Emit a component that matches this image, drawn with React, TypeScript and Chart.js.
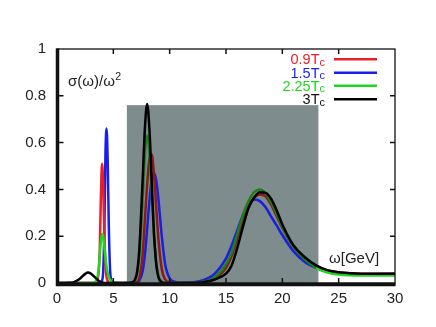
import React, { useEffect, useRef } from "react";
import { Chart, registerables } from "chart.js";

Chart.register(...registerables);

// ---- data ----
const omega = [
  0, 1, 1.5, 2, 2.5, 2.75, 3, 3.5, 3.7, 3.8,
  3.9, 4.0, 4.1, 4.2, 4.3, 4.4, 4.5, 4.6, 4.7, 4.8,
  5, 5.5, 6, 6.5, 7, 7.3, 7.6, 7.8, 8.0, 8.2,
  8.4, 8.6, 8.8, 9.0, 9.3, 9.6, 10, 10.5, 11, 12,
  13, 14, 15, 15.5, 16, 16.5, 17, 17.5, 18, 18.5,
  19, 19.5, 20, 21, 22, 23, 24, 25, 27, 30,
];

const rho09 = [
  0, 0, 0, 0, 0, 0, 0, 0.003, 0.05, 0.15,
  0.38, 0.51, 0.42, 0.22, 0.08, 0.025, 0.008, 0.002, 0, 0,
  0, 0, 0, 0, 0.003, 0.02, 0.12, 0.27, 0.42, 0.53,
  0.55, 0.47, 0.33, 0.19, 0.06, 0.015, 0.003, 0, 0, 0,
  0.005, 0.02, 0.065, 0.115, 0.19, 0.27, 0.33, 0.365, 0.378, 0.37,
  0.335, 0.285, 0.235, 0.155, 0.105, 0.07, 0.052, 0.045, 0.04, 0.04,
];

const rho15 = [
  0, 0, 0, 0, 0, 0, 0, 0, 0, 0,
  0.002, 0.01, 0.05, 0.22, 0.55, 0.66, 0.52, 0.24, 0.07, 0.015,
  0.002, 0, 0, 0, 0, 0.01, 0.05, 0.12, 0.23, 0.35,
  0.44, 0.47, 0.44, 0.36, 0.2, 0.08, 0.02, 0.005, 0.001, 0.003,
  0.012, 0.04, 0.105, 0.16, 0.225, 0.29, 0.335, 0.357, 0.35, 0.325,
  0.285, 0.245, 0.205, 0.135, 0.09, 0.065, 0.05, 0.042, 0.037, 0.04,
];

const rho225 = [
  0, 0, 0, 0, 0, 0, 0, 0.01, 0.06, 0.12,
  0.18, 0.21, 0.2, 0.16, 0.11, 0.07, 0.045, 0.025, 0.015, 0.008,
  0.002, 0, 0, 0, 0.02, 0.11, 0.36, 0.55, 0.63, 0.56,
  0.39, 0.21, 0.09, 0.03, 0.005, 0, 0, 0, 0, 0,
  0.005, 0.025, 0.08, 0.13, 0.21, 0.29, 0.35, 0.388, 0.4, 0.385,
  0.345, 0.295, 0.24, 0.155, 0.1, 0.065, 0.045, 0.036, 0.032, 0.032,
];

const rho3 = [
  0, 0.001, 0.004, 0.017, 0.039, 0.045, 0.04, 0.018, 0.01, 0.007,
  0.004, 0.002, 0.001, 0, 0, 0, 0, 0, 0, 0,
  0, 0, 0, 0.001, 0.024, 0.14, 0.44, 0.66, 0.765, 0.66,
  0.44, 0.22, 0.085, 0.025, 0.003, 0, 0, 0, 0, 0,
  0.003, 0.015, 0.04, 0.075, 0.15, 0.24, 0.32, 0.365, 0.388, 0.385,
  0.36, 0.31, 0.25, 0.16, 0.11, 0.075, 0.055, 0.046, 0.04, 0.04,
];

const seriesNames = ["0.9", "1.5", "2.25", "3"];
const xTicks = [0, 5, 10, 15, 20, 25, 30];
const yTicks = [0, 0.2, 0.4, 0.6, 0.8, 1];
const shadeRangeX = [6.2, 23.2];
const shadeRangeY = [0, 0.76];

// ---- styles ----
const colors = ["rgb(235,30,40)", "rgb(25,30,235)", "rgb(30,215,30)", "#000000"];
const darkColors = ["rgb(140,25,25)", "rgb(25,30,225)", "rgb(25,130,25)", "#000000"];
const FONT = "'Liberation Sans', Arial, Helvetica, sans-serif";

const framePlugin = {
  id: "framePlugin",
  beforeDatasetsDraw(chart: any) {
    const { ctx, scales } = chart;
    const x = scales.x, y = scales.y;
    const x0 = x.getPixelForValue(shadeRangeX[0]);
    const x1 = x.getPixelForValue(shadeRangeX[1]);
    const y0 = y.getPixelForValue(shadeRangeY[0]);
    const y1 = y.getPixelForValue(shadeRangeY[1]);
    ctx.save();
    ctx.fillStyle = "rgb(127,140,141)";
    ctx.fillRect(x0, y1, x1 - x0, y0 - y1);
    ctx.restore();
  },
  afterDraw(chart: any) {
    const { ctx, chartArea, scales } = chart;
    const { left, right, top, bottom } = chartArea;
    ctx.save();
    // thin frame
    ctx.strokeStyle = "#111";
    ctx.lineWidth = 1.3;
    ctx.strokeRect(left, top, right - left, bottom - top);
    // thick left & bottom axes
    ctx.lineWidth = 3.5;
    ctx.beginPath();
    ctx.moveTo(left + 0.5, top - 0.6);
    ctx.lineTo(left + 0.5, bottom + 1.5);
    ctx.lineTo(right + 0.6, bottom + 1.5);
    ctx.stroke();
    // inward ticks
    ctx.lineWidth = 1.5;
    const tl = 5;
    ctx.beginPath();
    xTicks.forEach((v, i) => {
      if (i === 0 || i === xTicks.length - 1) return;
      const px = scales.x.getPixelForValue(v);
      ctx.moveTo(px, bottom);
      ctx.lineTo(px, bottom - tl);
      ctx.moveTo(px, top);
      ctx.lineTo(px, top + tl);
    });
    yTicks.forEach((v, i) => {
      if (i === 0 || i === yTicks.length - 1) return;
      const py = scales.y.getPixelForValue(v);
      ctx.moveTo(left, py);
      ctx.lineTo(left + tl + 1.5, py);
      ctx.moveTo(right, py);
      ctx.lineTo(right - tl, py);
    });
    ctx.stroke();

    // axis titles
    ctx.fillStyle = "#222";
    ctx.textBaseline = "alphabetic";
    ctx.textAlign = "left";
    ctx.font = `15px ${FONT}`;
    const ylab = "σ(ω)/ω";
    ctx.fillText(ylab, 68, 86);
    const w = ctx.measureText(ylab).width;
    ctx.font = `10.5px ${FONT}`;
    ctx.fillText("2", 68 + w + 0.5, 80);
    ctx.font = `15px ${FONT}`;
    ctx.fillText("ω[GeV]", 329, 263);

    // legend
    const legendY = [59.3, 72.7, 85.8, 99.2];
    const textRight = 325;
    seriesNames.forEach((name, i) => {
      const ly = legendY[i];
      ctx.font = `11px ${FONT}`;
      const cw = ctx.measureText("c").width;
      ctx.fillStyle = colors[i] === "#000000" ? "#111" : colors[i];
      ctx.textAlign = "left";
      ctx.fillText("c", textRight - cw, ly + 6.5);
      ctx.font = `14.5px ${FONT}`;
      ctx.textAlign = "right";
      ctx.fillText(name + "T", textRight - cw, ly + 5);
      ctx.strokeStyle = colors[i];
      ctx.lineWidth = 2.5;
      ctx.beginPath();
      ctx.moveTo(334, ly);
      ctx.lineTo(377, ly);
      ctx.stroke();
    });
    ctx.restore();
  },
};

export default function App() {
  const ref = useRef<HTMLCanvasElement | null>(null);

  useEffect(() => {
    document.body.style.margin = "0";
    const canvas = ref.current;
    if (!canvas) return;
    const series = [rho09, rho15, rho225, rho3];
    const order = [3, 2, 0, 1]; // black on top, then green, red, blue
    const datasets = order.map((si) => ({
      label: seriesNames[si] + "Tc",
      data: omega.map((x, k) => ({ x, y: series[si][k] })),
      borderColor: colors[si],
      borderWidth: 2.5,
      pointRadius: 0,
      fill: false,
      cubicInterpolationMode: "monotone" as const,
      segment: {
        borderColor: (c: any) => {
          const xm = (c.p0.parsed.x + c.p1.parsed.x) / 2;
          const ym = Math.max(c.p0.parsed.y, c.p1.parsed.y);
          return xm > shadeRangeX[0] && xm < shadeRangeX[1] && ym < shadeRangeY[1]
            ? darkColors[si]
            : colors[si];
        },
      },
    }));

    const chart = new Chart(canvas, {
      type: "line",
      data: { datasets },
      options: {
        animation: false,
        responsive: false,
        maintainAspectRatio: false,
        layout: { padding: { top: 49, right: 41, left: 0, bottom: 0 } },
        plugins: { legend: { display: false }, tooltip: { enabled: false } },
        scales: {
          x: {
            type: "linear",
            min: 0,
            max: 30,
            afterFit: (s: any) => { s.height = 44; },
            afterBuildTicks: (s: any) => { s.ticks = xTicks.map((v) => ({ value: v })); },
            ticks: {
              color: "#222",
              padding: 7,
              font: { family: FONT, size: 15 },
              callback: (v: any) => String(v),
            },
            grid: { display: false, drawTicks: false },
            border: { display: false },
          },
          y: {
            type: "linear",
            min: 0,
            max: 1,
            afterFit: (s: any) => { s.width = 57; },
            afterBuildTicks: (s: any) => { s.ticks = yTicks.map((v) => ({ value: v })); },
            ticks: {
              color: "#222",
              padding: 11,
              font: { family: FONT, size: 15 },
              callback: (v: any) => String(+Number(v).toFixed(1)),
            },
            grid: { display: false, drawTicks: false },
            border: { display: false },
          },
        },
      },
      plugins: [framePlugin],
    });
    return () => chart.destroy();
  }, []);

  return (
    <div style={{ position: "absolute", left: 0, top: 0, width: 436, height: 327, background: "#fff" }}>
      <canvas ref={ref} width={436} height={327} style={{ display: "block", width: 436, height: 327 }} />
    </div>
  );
}
